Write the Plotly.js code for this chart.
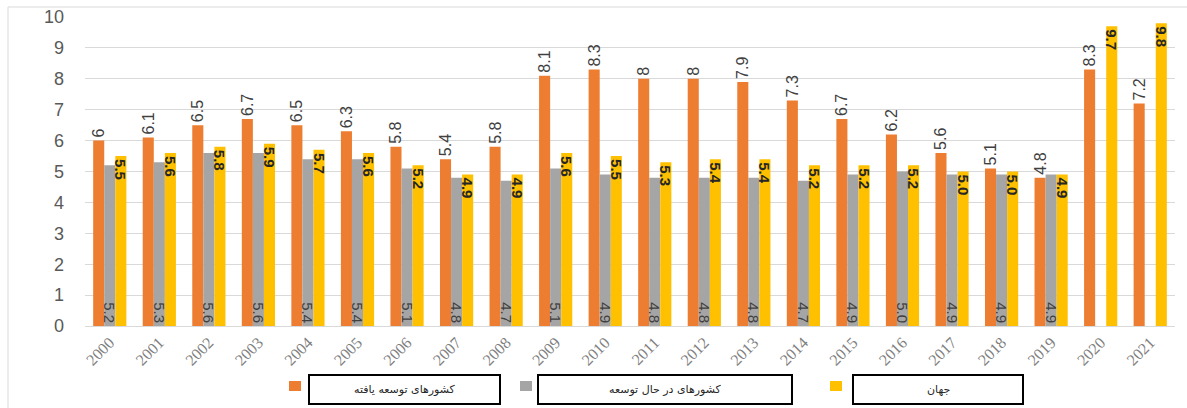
<!DOCTYPE html>
<html>
<head>
<meta charset="utf-8">
<script src="https://cdn.plot.ly/plotly-3.0.1.min.js"></script>
<style>html,body{margin:0;padding:0;background:#fff;}#chart{width:1187px;height:408px;}</style>
</head>
<body>
<div id="chart"></div>
<script>
var years = ["2000","2001","2002","2003","2004","2005","2006","2007","2008","2009","2010","2011","2012","2013","2014","2015","2016","2017","2018","2019","2020","2021"];
var developed = [6, 6.1, 6.5, 6.7, 6.5, 6.3, 5.8, 5.4, 5.8, 8.1, 8.3, 8, 8, 7.9, 7.3, 6.7, 6.2, 5.6, 5.1, 4.8, 8.3, 7.2];
var developing = [5.2, 5.3, 5.6, 5.6, 5.4, 5.4, 5.1, 4.8, 4.7, 5.1, 4.9, 4.8, 4.8, 4.8, 4.7, 4.9, 5.0, 4.9, 4.9, 4.9, null, null];
var world = [5.5, 5.6, 5.8, 5.9, 5.7, 5.6, 5.2, 4.9, 4.9, 5.6, 5.5, 5.3, 5.4, 5.4, 5.2, 5.2, 5.2, 5.0, 5.0, 4.9, 9.7, 9.8];
var seriesNames = ["کشورهای توسعه یافته", "کشورهای در حال توسعه", "جهان"];
var seriesColors = ["#ED7D31", "#A5A5A5", "#FFC000"];
var yTicks = [0,1,2,3,4,5,6,7,8,9,10];

var W = 1187, H = 408, L = 85, R = 12, T = 17, B = 82;
var pw = W - L - R, ph = H - T - B;
function px(x){ return (x - L) / pw; }
function py(y){ return (H - B - y) / ph; }

var traces = [
  {type:'bar', x:years, y:developed, name:seriesNames[0], marker:{color:seriesColors[0]},
   text: developed.map(function(v){return String(v);}), textposition:'outside', textangle:-90,
   constraintext:'none', cliponaxis:false,
   textfont:{family:'Liberation Sans Narrow, Liberation Sans, sans-serif', size:16, color:'#404040'}},
  {type:'bar', x:years, y:developing, name:seriesNames[1], marker:{color:seriesColors[1]},
   texttemplate:'%{y:.1f}', textposition:'inside', insidetextanchor:'start', textangle:90,
   constraintext:'none',
   textfont:{family:'Liberation Sans Narrow, Liberation Sans, sans-serif', size:15, color:'#404040'}},
  {type:'bar', x:years, y:world, name:seriesNames[2], marker:{color:seriesColors[2]},
   texttemplate:'<b>%{y:.1f}</b>', textposition:'inside', insidetextanchor:'end', textangle:90,
   constraintext:'none',
   textfont:{family:'Liberation Sans Narrow, Liberation Sans, sans-serif', size:15, color:'#262626'}}
];

var shapes = [
  {type:'rect', xref:'paper', yref:'paper', x0:px(8), x1:px(1200), y0:py(7), y1:py(430),
   line:{color:'#d9d9d9', width:1}, fillcolor:'rgba(0,0,0,0)', layer:'below'}
];
var annotations = [];
var boxes = [[309,500],[538,792],[853,1023]];
var squares = [289,520,830];
for (var i = 0; i < seriesNames.length; i++) {
  shapes.push({type:'rect', xref:'paper', yref:'paper', x0:px(boxes[i][0]), x1:px(boxes[i][1]),
    y0:py(375), y1:py(404), line:{color:'#000', width:2}, fillcolor:'#fff'});
  shapes.push({type:'rect', xref:'paper', yref:'paper', x0:px(squares[i]), x1:px(squares[i]+12),
    y0:py(381), y1:py(391), line:{width:0}, fillcolor:seriesColors[i]});
  annotations.push({xref:'paper', yref:'paper', x:px((boxes[i][0]+boxes[i][1])/2), y:py(389.5),
    text:seriesNames[i], showarrow:false, xanchor:'center', yanchor:'middle',
    font:{family:'DejaVu Sans, sans-serif', size:11, color:'#262626'}});
}

var layout = {
  width:W, height:H, margin:{l:L, r:R, t:T, b:B},
  paper_bgcolor:'#fff', plot_bgcolor:'#fff',
  barmode:'group', bargap:0.33, bargroupgap:0,
  showlegend:false,
  xaxis:{type:'category', tickangle:-45, showgrid:false, showline:true, linecolor:'#d9d9d9', linewidth:1,
    tickfont:{family:'Liberation Serif, serif', size:16, color:'#7f7f7f'}, ticks:'', automargin:false},
  yaxis:{range:[0,10], tickvals:yTicks, ticktext:yTicks.map(String), showgrid:true, gridcolor:'#d9d9d9', gridwidth:1,
    zeroline:false, showline:false, ticks:'', ticklabelstandoff:20,
    tickfont:{family:'Liberation Sans, sans-serif', size:18, color:'#595959'}, automargin:false},
  shapes:shapes, annotations:annotations,
  font:{family:'Liberation Sans, sans-serif'}
};
Plotly.newPlot('chart', traces, layout, {displayModeBar:false, staticPlot:true});
</script>
</body>
</html>
